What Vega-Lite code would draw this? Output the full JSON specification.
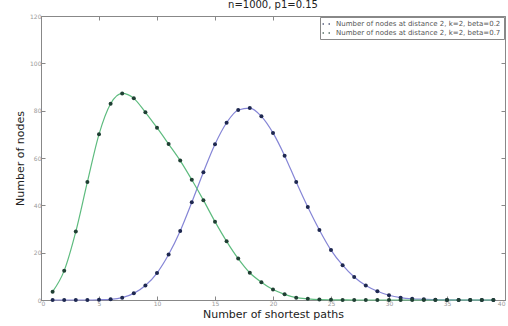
{
  "$schema": "https://vega.github.io/schema/vega-lite/v6.json",
  "width": 464,
  "height": 284,
  "autosize": "none",
  "padding": {"left": 41, "top": 16, "right": 3, "bottom": 26},
  "background": "white",
  "title": {"text": "n=1000, p1=0.15", "font": "DejaVu Sans", "fontSize": 10, "fontWeight": "normal", "color": "#222", "offset": 3},
  "config": {
    "view": {"stroke": "#888", "strokeWidth": 1},
    "axis": {"grid": false, "domainColor": "#888", "tickColor": "#888", "tickSize": -4, "labelColor": "#999", "labelFont": "DejaVu Sans", "labelFontSize": 6, "titleFont": "DejaVu Sans", "titleFontSize": 11, "titleFontWeight": "normal", "titleColor": "#222"}
  },
  "data": {"values": [
    {"x":1,"y":0,"s":"Number of nodes at distance 2, k=2, beta=0.2"},
    {"x":2,"y":0,"s":"Number of nodes at distance 2, k=2, beta=0.2"},
    {"x":3,"y":0,"s":"Number of nodes at distance 2, k=2, beta=0.2"},
    {"x":4,"y":0,"s":"Number of nodes at distance 2, k=2, beta=0.2"},
    {"x":5,"y":0.1,"s":"Number of nodes at distance 2, k=2, beta=0.2"},
    {"x":6,"y":0.3,"s":"Number of nodes at distance 2, k=2, beta=0.2"},
    {"x":7,"y":1.0,"s":"Number of nodes at distance 2, k=2, beta=0.2"},
    {"x":8,"y":2.8,"s":"Number of nodes at distance 2, k=2, beta=0.2"},
    {"x":9,"y":6.1,"s":"Number of nodes at distance 2, k=2, beta=0.2"},
    {"x":10,"y":11.4,"s":"Number of nodes at distance 2, k=2, beta=0.2"},
    {"x":11,"y":19.2,"s":"Number of nodes at distance 2, k=2, beta=0.2"},
    {"x":12,"y":29.2,"s":"Number of nodes at distance 2, k=2, beta=0.2"},
    {"x":13,"y":41.3,"s":"Number of nodes at distance 2, k=2, beta=0.2"},
    {"x":14,"y":54.0,"s":"Number of nodes at distance 2, k=2, beta=0.2"},
    {"x":15,"y":65.8,"s":"Number of nodes at distance 2, k=2, beta=0.2"},
    {"x":16,"y":74.9,"s":"Number of nodes at distance 2, k=2, beta=0.2"},
    {"x":17,"y":80.3,"s":"Number of nodes at distance 2, k=2, beta=0.2"},
    {"x":18,"y":81.1,"s":"Number of nodes at distance 2, k=2, beta=0.2"},
    {"x":19,"y":77.6,"s":"Number of nodes at distance 2, k=2, beta=0.2"},
    {"x":20,"y":70.6,"s":"Number of nodes at distance 2, k=2, beta=0.2"},
    {"x":21,"y":61.0,"s":"Number of nodes at distance 2, k=2, beta=0.2"},
    {"x":22,"y":49.9,"s":"Number of nodes at distance 2, k=2, beta=0.2"},
    {"x":23,"y":39.3,"s":"Number of nodes at distance 2, k=2, beta=0.2"},
    {"x":24,"y":29.6,"s":"Number of nodes at distance 2, k=2, beta=0.2"},
    {"x":25,"y":21.1,"s":"Number of nodes at distance 2, k=2, beta=0.2"},
    {"x":26,"y":14.7,"s":"Number of nodes at distance 2, k=2, beta=0.2"},
    {"x":27,"y":9.7,"s":"Number of nodes at distance 2, k=2, beta=0.2"},
    {"x":28,"y":6.1,"s":"Number of nodes at distance 2, k=2, beta=0.2"},
    {"x":29,"y":3.7,"s":"Number of nodes at distance 2, k=2, beta=0.2"},
    {"x":30,"y":2.0,"s":"Number of nodes at distance 2, k=2, beta=0.2"},
    {"x":31,"y":1.0,"s":"Number of nodes at distance 2, k=2, beta=0.2"},
    {"x":32,"y":0.5,"s":"Number of nodes at distance 2, k=2, beta=0.2"},
    {"x":33,"y":0.3,"s":"Number of nodes at distance 2, k=2, beta=0.2"},
    {"x":34,"y":0.1,"s":"Number of nodes at distance 2, k=2, beta=0.2"},
    {"x":35,"y":0.05,"s":"Number of nodes at distance 2, k=2, beta=0.2"},
    {"x":36,"y":0,"s":"Number of nodes at distance 2, k=2, beta=0.2"},
    {"x":37,"y":0,"s":"Number of nodes at distance 2, k=2, beta=0.2"},
    {"x":38,"y":0,"s":"Number of nodes at distance 2, k=2, beta=0.2"},
    {"x":39,"y":0,"s":"Number of nodes at distance 2, k=2, beta=0.2"},
    {"x":1,"y":3.5,"s":"Number of nodes at distance 2, k=2, beta=0.7"},
    {"x":2,"y":12.4,"s":"Number of nodes at distance 2, k=2, beta=0.7"},
    {"x":3,"y":28.9,"s":"Number of nodes at distance 2, k=2, beta=0.7"},
    {"x":4,"y":49.9,"s":"Number of nodes at distance 2, k=2, beta=0.7"},
    {"x":5,"y":70.0,"s":"Number of nodes at distance 2, k=2, beta=0.7"},
    {"x":6,"y":82.9,"s":"Number of nodes at distance 2, k=2, beta=0.7"},
    {"x":7,"y":87.3,"s":"Number of nodes at distance 2, k=2, beta=0.7"},
    {"x":8,"y":85.2,"s":"Number of nodes at distance 2, k=2, beta=0.7"},
    {"x":9,"y":79.3,"s":"Number of nodes at distance 2, k=2, beta=0.7"},
    {"x":10,"y":72.8,"s":"Number of nodes at distance 2, k=2, beta=0.7"},
    {"x":11,"y":65.9,"s":"Number of nodes at distance 2, k=2, beta=0.7"},
    {"x":12,"y":58.9,"s":"Number of nodes at distance 2, k=2, beta=0.7"},
    {"x":13,"y":50.8,"s":"Number of nodes at distance 2, k=2, beta=0.7"},
    {"x":14,"y":42.2,"s":"Number of nodes at distance 2, k=2, beta=0.7"},
    {"x":15,"y":33.1,"s":"Number of nodes at distance 2, k=2, beta=0.7"},
    {"x":16,"y":24.8,"s":"Number of nodes at distance 2, k=2, beta=0.7"},
    {"x":17,"y":17.5,"s":"Number of nodes at distance 2, k=2, beta=0.7"},
    {"x":18,"y":11.5,"s":"Number of nodes at distance 2, k=2, beta=0.7"},
    {"x":19,"y":7.5,"s":"Number of nodes at distance 2, k=2, beta=0.7"},
    {"x":20,"y":4.4,"s":"Number of nodes at distance 2, k=2, beta=0.7"},
    {"x":21,"y":2.4,"s":"Number of nodes at distance 2, k=2, beta=0.7"},
    {"x":22,"y":1.0,"s":"Number of nodes at distance 2, k=2, beta=0.7"},
    {"x":23,"y":0.5,"s":"Number of nodes at distance 2, k=2, beta=0.7"},
    {"x":24,"y":0.2,"s":"Number of nodes at distance 2, k=2, beta=0.7"},
    {"x":25,"y":0.1,"s":"Number of nodes at distance 2, k=2, beta=0.7"},
    {"x":26,"y":0.05,"s":"Number of nodes at distance 2, k=2, beta=0.7"},
    {"x":27,"y":0,"s":"Number of nodes at distance 2, k=2, beta=0.7"},
    {"x":28,"y":0,"s":"Number of nodes at distance 2, k=2, beta=0.7"},
    {"x":29,"y":0,"s":"Number of nodes at distance 2, k=2, beta=0.7"},
    {"x":30,"y":0,"s":"Number of nodes at distance 2, k=2, beta=0.7"},
    {"x":31,"y":0,"s":"Number of nodes at distance 2, k=2, beta=0.7"},
    {"x":32,"y":0,"s":"Number of nodes at distance 2, k=2, beta=0.7"},
    {"x":33,"y":0,"s":"Number of nodes at distance 2, k=2, beta=0.7"},
    {"x":34,"y":0,"s":"Number of nodes at distance 2, k=2, beta=0.7"},
    {"x":35,"y":0,"s":"Number of nodes at distance 2, k=2, beta=0.7"},
    {"x":36,"y":0,"s":"Number of nodes at distance 2, k=2, beta=0.7"},
    {"x":37,"y":0,"s":"Number of nodes at distance 2, k=2, beta=0.7"},
    {"x":38,"y":0,"s":"Number of nodes at distance 2, k=2, beta=0.7"},
    {"x":39,"y":0,"s":"Number of nodes at distance 2, k=2, beta=0.7"}
  ]},
  "layer": [
    {
      "mark": {"type": "line", "interpolate": "monotone", "strokeWidth": 1.2},
      "encoding": {
        "x": {"field": "x", "type": "quantitative", "scale": {"domain": [0, 40]}, "axis": {"title": "Number of shortest paths", "values": [0,5,10,15,20,25,30,35,40], "labelPadding": 4, "titlePadding": 2}},
        "y": {"field": "y", "type": "quantitative", "scale": {"domain": [0, 120]}, "axis": {"title": "Number of nodes", "values": [0,20,40,60,80,100,120], "labelPadding": 4, "titlePadding": 4}},
        "color": {"field": "s", "type": "nominal", "scale": {"range": ["#8585d6", "#5dbb7e"]}, "legend": null}
      }
    },
    {
      "mark": {"type": "point", "filled": true, "size": 16, "opacity": 1},
      "encoding": {
        "x": {"field": "x", "type": "quantitative", "scale": {"domain": [0, 40]}, "axis": {"title": null, "labels": false, "domain": false, "values": [0,5,10,15,20,25,30,35,40]}},
        "y": {"field": "y", "type": "quantitative", "scale": {"domain": [0, 120]}, "axis": {"title": null, "labels": false, "domain": false, "values": [0,20,40,60,80,100,120]}},
        "fill": {"field": "s", "type": "nominal", "scale": {"range": ["#1e2850", "#1f3f33"]}, "legend": {"title": null, "orient": "top-right", "offset": 1, "strokeColor": "#888", "fillColor": "white", "padding": 3, "rowPadding": 2, "labelFont": "DejaVu Sans", "labelFontSize": 7, "labelColor": "#555", "labelLimit": 400, "symbolSize": 64, "symbolStrokeWidth": 0, "symbolType": "M -0.95 0 m -0.2 0 a 0.2 0.2 0 1 0 0.4 0 a 0.2 0.2 0 1 0 -0.4 0 M 0.55 0 m -0.2 0 a 0.2 0.2 0 1 0 0.4 0 a 0.2 0.2 0 1 0 -0.4 0", "labelOffset": 5, "cornerRadius": 0}}
      }
    }
  ],
  "resolve": {"axis": {"x": "independent", "y": "independent"}}
}
